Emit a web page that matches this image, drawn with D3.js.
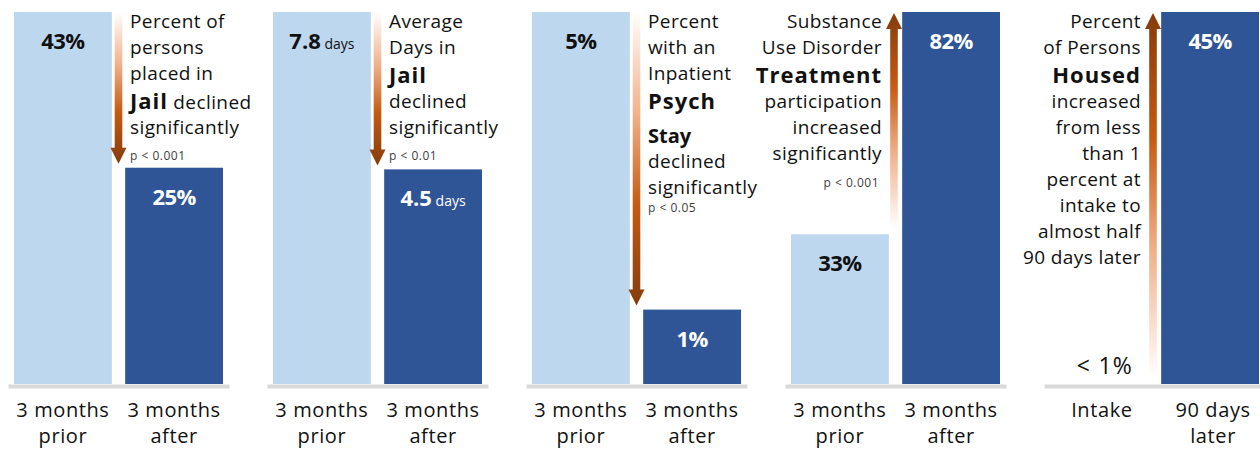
<!DOCTYPE html>
<html><head><meta charset="utf-8">
<script src="https://cdn.jsdelivr.net/npm/d3@7"></script>
<style>
body{margin:0;background:#fff}
svg{display:block;font-family:"Open Sans","Noto Sans",sans-serif}
text{white-space:pre}
</style>
</head><body><svg id="chart" width="1260" height="449"></svg>
<script>
// ---------- data ----------
const panelCategories = [
  [["3 months","prior"],["3 months","after"]],
  [["3 months","prior"],["3 months","after"]],
  [["3 months","prior"],["3 months","after"]],
  [["3 months","prior"],["3 months","after"]],
  [["Intake"],["90 days","later"]]
];
const beforeValues = [43, 7.8, 5, 33, 0];
const afterValues  = [25, 4.5, 1, 82, 45];
const valueUnits   = ["%", "days", "%", "%", "%"];
const beforeLabelOverride = [null, null, null, null, "< 1%"];
const pValueLabels = ["p < 0.001", "p < 0.01", "p < 0.05", "p < 0.001", ""];
const annotationLines = [
  [[["Percent of","r"]],[["persons","r"]],[["placed in","r"]],[["Jail","b"],[" declined","r"]],[["significantly","r"]]],
  [[["Average","r"]],[["Days in","r"]],[["Jail","b"]],[["declined","r"]],[["significantly","r"]]],
  [[["Percent","r"]],[["with an","r"]],[["Inpatient","r"]],[["Psych","b"]],[["Stay","s"]],[["declined","r"]],[["significantly","r"]]],
  [[["Substance","r"]],[["Use Disorder","r"]],[["Treatment","b"]],[["participation","r"]],[["increased","r"]],[["significantly","r"]]],
  [[["Percent","r"]],[["of Persons","r"]],[["Housed","b"]],[["increased","r"]],[["from less","r"]],[["than 1","r"]],[["percent at","r"]],[["intake to","r"]],[["almost half","r"]],[["90 days later","r"]]]
];

// ---------- layout / style ----------
const panelStart = 8, panelStep = 259, panelWidth = 221;
const yBase = 384, yTop = 12;
const pLead = [26, 26, 18, 27, 0];
const lightBar = "#BDD7EE", darkBar = "#2F5597";
const segStyle = {
  r: {size: 19, weight: 400, ls: 0.4, lead: 26},
  b: {size: 22, weight: 700, ls: 1.0, lead: 29},
  s: {size: 20, weight: 700, ls: 0, lead: 35}
};

const svg = d3.select("#chart");
const defs = svg.append("defs");

beforeValues.forEach((v0, i) => {
  const v1 = afterValues[i];
  const g = svg.append("g").attr("transform", `translate(${panelStart + i * panelStep},0)`);
  const x = d3.scaleBand().domain([0, 1]).range([0, panelWidth]).paddingInner(0.12).paddingOuter(0.054);
  const y = d3.scaleLinear().domain([0, Math.max(v0, v1)]).range([yBase, yTop]);
  const vals = [v0, v1];

  // bars
  g.selectAll("rect.bar").data(vals).join("rect")
    .attr("class", "bar")
    .attr("x", (d, k) => x(k))
    .attr("width", x.bandwidth())
    .attr("y", d => y(d))
    .attr("height", d => y(0) - y(d))
    .attr("fill", (d, k) => k === 0 ? lightBar : darkBar);

  // axis line
  const ax = g.append("g").attr("transform", `translate(0,${yBase + 2})`)
    .call(d3.axisBottom(x).tickSize(0).tickSizeOuter(0).tickFormat(""));
  ax.select(".domain").attr("stroke", "#D9D9D9").attr("stroke-width", 4);

  // category labels
  panelCategories[i].forEach((lines, k) => {
    const cx = x(k) + x.bandwidth() / 2 + (i === 4 ? 3 : 0);
    const t = g.append("text")
      .attr("x", cx)
      .attr("y", 417)
      .attr("text-anchor", "middle")
      .attr("font-size", 20)
      .attr("letter-spacing", 0.6)
      .attr("fill", "#111");
    lines.forEach((ln, j) => {
      t.append("tspan").attr("x", cx).attr("dy", j === 0 ? 0 : 26).text(ln);
    });
  });

  // value labels
  vals.forEach((d, k) => {
    const cx = x(k) + x.bandwidth() / 2;
    const override = k === 0 ? beforeLabelOverride[i] : null;
    if (override) {
      g.append("text").attr("x", cx + 6).attr("y", y(d) - 10)
        .attr("text-anchor", "middle").attr("font-size", 23).attr("fill", "#111")
        .attr("letter-spacing", 1.2).text(override);
      return;
    }
    const t = g.append("text").attr("x", cx).attr("y", y(d) + 37)
      .attr("text-anchor", "middle")
      .attr("fill", k === 0 ? "#111" : "#fff");
    if (valueUnits[i] === "%") {
      t.append("tspan").attr("font-size", 22).attr("font-weight", 700)
        .attr("letter-spacing", -0.6).text(d + "%");
    } else {
      t.append("tspan").attr("font-size", 22).attr("font-weight", 700).text(d);
      t.append("tspan").attr("font-size", 14).attr("font-weight", 400).text(" " + valueUnits[i]);
    }
  });

  // arrow
  const down = v1 < v0;
  const gapX = x(0) + x.bandwidth() + (x(1) - x(0) - x.bandwidth()) / 2 - (down ? 0 : 1.5);
  const tailY = down ? y(v0) : y(v0) - 6;
  const tipY = down ? y(v1) - 4 : y(v1) + 1;
  const dir = down ? 1 : -1;
  const headLen = 16, headHalf = 8, shaftHalf = 3.8;
  const gid = "grad" + i;
  const grad = defs.append("linearGradient").attr("id", gid)
    .attr("gradientUnits", "userSpaceOnUse")
    .attr("x1", 0).attr("x2", 0).attr("y1", tailY).attr("y2", tipY);
  [[0, "#FFFFFF"], [0.35, "#F0B08A"], [0.66, "#C55A11"], [1, "#843C0C"]].forEach(([o, c]) =>
    grad.append("stop").attr("offset", o).attr("stop-color", c));
  const baseY = tipY - dir * headLen;
  const path = d3.path();
  path.moveTo(gapX - shaftHalf, tailY);
  path.lineTo(gapX - shaftHalf, baseY);
  path.lineTo(gapX - headHalf, baseY);
  path.lineTo(gapX, tipY);
  path.lineTo(gapX + headHalf, baseY);
  path.lineTo(gapX + shaftHalf, baseY);
  path.lineTo(gapX + shaftHalf, tailY);
  path.closePath();
  g.append("path").attr("d", path.toString()).attr("fill", `url(#${gid})`);

  // annotation text
  const tx = down ? gapX + 11.5 : gapX - 12;
  const anchor = down ? "start" : "end";
  let by = 28 - segStyle.r.lead;
  let prevBold = false;
  annotationLines[i].forEach((line, li) => {
    const st0 = segStyle[line[0][1]];
    by += (li === 0) ? segStyle.r.lead : (st0.lead - (prevBold ? 1 : 0));
    prevBold = line[0][1] !== "r";
    const t = g.append("text").attr("x", tx).attr("y", by)
      .attr("text-anchor", anchor).attr("fill", "#111");
    line.forEach(([txt, s]) => {
      const st = segStyle[s];
      t.append("tspan").attr("font-size", st.size).attr("font-weight", st.weight)
        .attr("letter-spacing", st.ls).text(txt);
    });
  });
  if (pValueLabels[i]) {
    g.append("text").attr("x", down ? tx : tx - 3).attr("y", by + pLead[i])
      .attr("text-anchor", anchor).attr("font-size", 12).attr("letter-spacing", 0.5)
      .attr("fill", "#404040").text(pValueLabels[i]);
  }
});
</script>
</body></html>
